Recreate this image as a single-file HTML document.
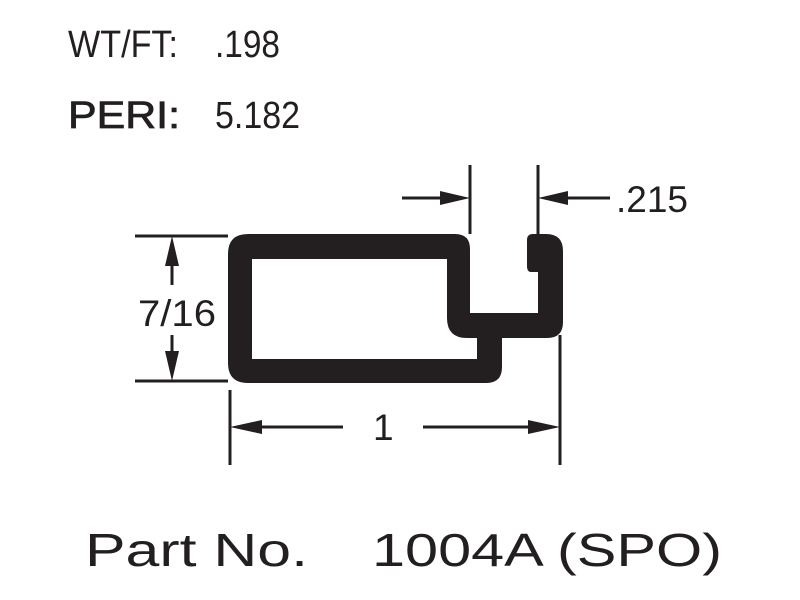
<!DOCTYPE html>
<html><head><style>html,body{margin:0;padding:0;background:#fff;}svg{display:block}</style></head>
<body>
<svg width="800" height="600" viewBox="0 0 800 600" xmlns="http://www.w3.org/2000/svg" font-family="Liberation Sans, sans-serif" fill="#231f20">
<text x="68" y="57" font-size="38" textLength="110" lengthAdjust="spacingAndGlyphs">WT/FT:</text>
<text x="215" y="57" font-size="38" textLength="65" lengthAdjust="spacingAndGlyphs">.198</text>
<text x="68" y="128" font-size="38" textLength="112" lengthAdjust="spacingAndGlyphs" stroke="#231f20" stroke-width="0.8">PERI:</text>
<text x="215" y="128" font-size="38" textLength="85" lengthAdjust="spacingAndGlyphs">5.182</text>

<path fill-rule="evenodd" d="M228,254 Q228,234 248,234 L455,234 Q470,234 470,249 L470,313 L538,313 L538,272 L531,272 Q527,272 527,266 L527,240 Q527,234 533,234 L546,234 Q563,234 563,251 L563,322 Q563,338 547,338 L502,338 L502,367 Q502,383 486,383 L248,383 Q228,383 228,363 Z
M252,259 L447,259 L447,318 Q447,338 467,338 L477,338 L477,359 L252,359 Z"/>

<g stroke="#231f20" stroke-width="3" fill="none">
<line x1="470" y1="165" x2="470" y2="234"/>
<line x1="538" y1="165" x2="538" y2="234"/>
<line x1="402" y1="198" x2="450" y2="198"/>
<line x1="558" y1="198" x2="610" y2="198"/>
<line x1="135" y1="236" x2="228" y2="236"/>
<line x1="135" y1="381" x2="228" y2="381"/>
<line x1="172" y1="255" x2="172" y2="285"/>
<line x1="172" y1="335" x2="172" y2="362"/>
<line x1="230" y1="390" x2="230" y2="465"/>
<line x1="560" y1="335" x2="560" y2="465"/>
<line x1="250" y1="427" x2="343" y2="427"/>
<line x1="423" y1="427" x2="540" y2="427"/>
</g>
<polygon points="470,198 440,191 440,205"/>
<polygon points="538,198 568,191 568,205"/>
<polygon points="172,236 165,266 179,266"/>
<polygon points="172,381 165,351 179,351"/>
<polygon points="230,427 262,420 262,434"/>
<polygon points="560,427 528,420 528,434"/>

<text x="616" y="212" font-size="37">.215</text>
<text x="138" y="326" font-size="37" textLength="78" lengthAdjust="spacingAndGlyphs">7/16</text>
<text x="373" y="440" font-size="37">1</text>

<text x="85" y="566" font-size="46" textLength="223" lengthAdjust="spacingAndGlyphs">Part No.</text>
<text x="372" y="566" font-size="46" textLength="350" lengthAdjust="spacingAndGlyphs">1004A (SPO)</text>
</svg>
</body></html>
